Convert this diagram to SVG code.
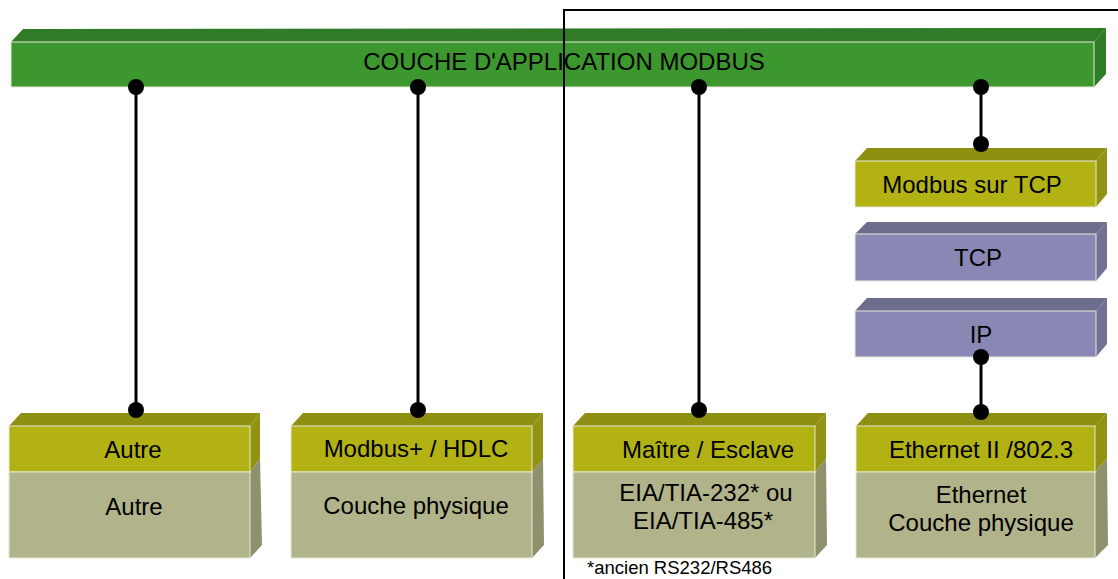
<svg xmlns="http://www.w3.org/2000/svg" width="1118" height="579" viewBox="0 0 1118 579">
<defs>
<style>
text{font-family:"Liberation Sans",Arial,sans-serif;font-size:24px;fill:#000;text-anchor:middle}
.edge{stroke:#e4ead8;stroke-width:1}
.gF{fill:#3c972f}.gT{fill:#2f7b27}.gR{fill:#2e7c26}
.yF{fill:#b2b214}.yT{fill:#8f8f12}.yR{fill:#939313}
.sF{fill:#b1b48b}.sR{fill:#8f906d}
.pF{fill:#8988b4}.pT{fill:#6e6d8e}.pR{fill:#727194}
.conn line{stroke:#000;stroke-width:3}
.conn circle{fill:#000}
</style>
</defs>
<rect width="1118" height="579" fill="#fff"/>

<g id="app">
<polygon class="gT" points="11,42 23,29 1106,28 1094,42"/>
<polygon class="gR" points="1094,42 1106,28 1106,74 1094,87"/>
<rect class="gF edge" x="11" y="42" width="1083" height="45"/>
<text x="564" y="70">COUCHE D'APPLICATION MODBUS</text>
</g>

<g id="mtcp">
<polygon class="yT" points="855,161 867,148 1107,148 1096,161"/>
<polygon class="yR" points="1096,161 1107,148 1107,194 1096,207"/>
<rect class="yF edge" x="855" y="161" width="241" height="46"/>
<text x="972" y="193">Modbus sur TCP</text>
</g>

<g id="tcp">
<polygon class="pT" points="855,234 867,222 1107,222 1096,234"/>
<polygon class="pR" points="1096,234 1107,222 1107,268 1096,281"/>
<rect class="pF edge" x="855" y="234" width="241" height="47"/>
<text x="978" y="266">TCP</text>
</g>

<g id="ip">
<polygon class="pT" points="855,311 867,298 1107,298 1096,311"/>
<polygon class="pR" points="1096,311 1107,298 1107,344 1096,357"/>
<rect class="pF edge" x="855" y="311" width="241" height="46"/>
<text x="981" y="343">IP</text>
</g>

<g id="box1">
<polygon class="yT" points="9,426 21,413 260,413 250,426"/>
<polygon class="yR" points="250,426 260,413 260,459 250,472"/>
<polygon class="sR" points="250,472 260,459 262,545 250,558"/>
<rect class="yF edge" x="9" y="426" width="241" height="46"/>
<rect class="sF edge" x="9" y="472" width="241" height="86"/>
<text x="133" y="458">Autre</text>
<text x="134" y="515">Autre</text>
</g>

<g id="box2">
<polygon class="yT" points="291,426 303,413 543,413 532,426"/>
<polygon class="yR" points="532,426 543,413 543,459 532,472"/>
<polygon class="sR" points="532,472 543,459 544,545 532,558"/>
<rect class="yF edge" x="291" y="426" width="241" height="46"/>
<rect class="sF edge" x="291" y="472" width="241" height="86"/>
<text x="416" y="457">Modbus+ / HDLC</text>
<text x="416" y="514">Couche physique</text>
</g>

<g id="box3">
<polygon class="yT" points="573,426 585,413 826,413 815,426"/>
<polygon class="yR" points="815,426 826,413 826,459 815,472"/>
<polygon class="sR" points="815,472 826,459 827,545 815,558"/>
<rect class="yF edge" x="573" y="426" width="242" height="46"/>
<rect class="sF edge" x="573" y="472" width="242" height="86"/>
<text x="708" y="458">Maître / Esclave</text>
<text x="706" y="501">EIA/TIA-232* ou</text>
<text x="703" y="529">EIA/TIA-485*</text>
<text x="587" y="574" style="font-size:18.5px;text-anchor:start">*ancien RS232/RS486</text>
</g>

<g id="box4">
<polygon class="yT" points="856,426 868,413 1107,413 1095,426"/>
<polygon class="yR" points="1095,426 1107,413 1107,459 1095,472"/>
<polygon class="sR" points="1095,472 1107,459 1108,545 1095,558"/>
<rect class="yF edge" x="856" y="426" width="239" height="46"/>
<rect class="sF edge" x="856" y="472" width="239" height="86"/>
<text x="981" y="458">Ethernet II /802.3</text>
<text x="981" y="503">Ethernet</text>
<text x="981" y="531">Couche physique</text>
</g>

<g class="conn" id="connectors">
<line x1="136" y1="87" x2="136" y2="410"/>
<line x1="418" y1="87" x2="418" y2="410"/>
<line x1="699" y1="87" x2="699" y2="410"/>
<line x1="981" y1="87" x2="981" y2="144"/>
<line x1="981" y1="357" x2="981" y2="412"/>
<circle cx="136" cy="87" r="8"/><circle cx="136" cy="410" r="8"/>
<circle cx="418" cy="87" r="8"/><circle cx="418" cy="410" r="8"/>
<circle cx="699" cy="87" r="8"/><circle cx="699" cy="410" r="8"/>
<circle cx="981" cy="87" r="8"/><circle cx="981" cy="144" r="8"/>
<circle cx="981" cy="357" r="8"/><circle cx="981" cy="412" r="8"/>
</g>

<!-- frame -->
<path id="frame" d="M564,579 V10 H1118" fill="none" stroke="#000" stroke-width="2"/>
</svg>
